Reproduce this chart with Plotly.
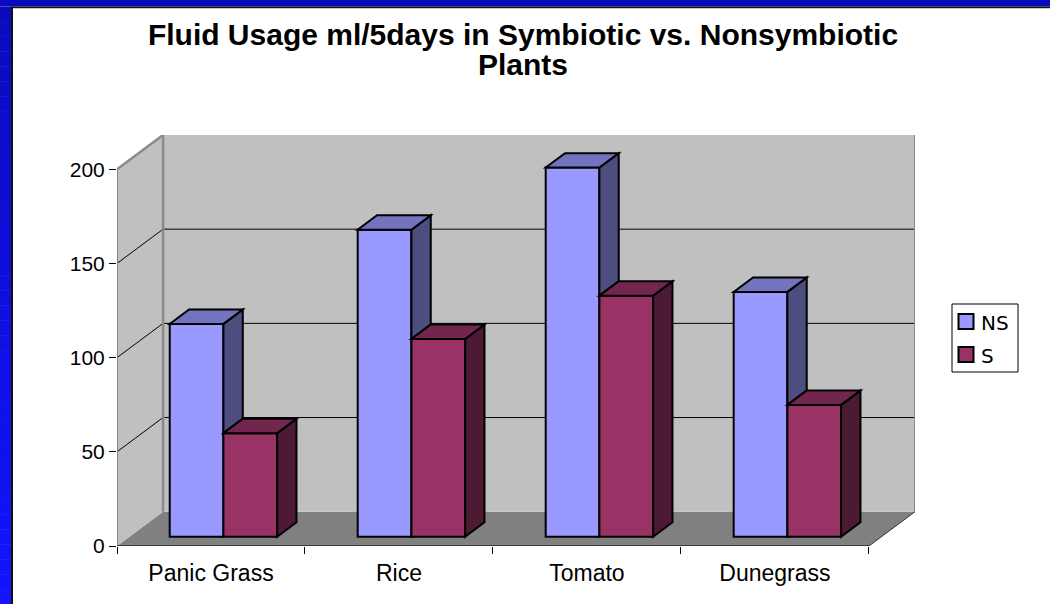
import plotly.graph_objects as go

# ---- data -------------------------------------------------------------
categories = ["Panic Grass", "Rice", "Tomato", "Dunegrass"]
ns_values = [113, 163, 196, 130]
s_values = [55, 105, 128, 70]
series_names = ["NS", "S"]
y_ticks = [0, 50, 100, 150, 200]
title_lines = ["Fluid Usage ml/5days in Symbiotic vs. Nonsymbiotic", "Plants"]

# ---- geometry / style ---------------------------------------------------
W, H = 1050, 604
M_L, M_R, M_T, M_B = 117, 135, 135, 58

DEPTH_X = 0.245     # oblique depth of the box, in category widths
DEPTH_Y = 18.2      # oblique depth of the box, in value units
Y_MAX = 200
BAR_W = 1 / 3.5     # two columns + 150 % gap per category
BAR_Z0 = 0.27       # front plane of the columns (fraction of depth)
BAR_DZ = 0.42       # column depth (fraction of depth)

NS_FRONT, NS_TOP, NS_SIDE = "#9999FF", "#7373BF", "#4D4D80"
S_FRONT, S_TOP, S_SIDE = "#993366", "#73264D", "#4D1A33"
SERIES_COLORS = [NS_FRONT, S_FRONT]
WALL, FLOOR, EDGE = "#C0C0C0", "#808080", "#8A8A8A"
FONT = "Liberation Sans, Arial, sans-serif"
LEGEND_FONT = "DejaVu Sans, Verdana, sans-serif"
TITLE_SIZE = 30          # glyph size of the title
TITLE_LINE_BASE = 23     # base size -> sets the line pitch (1.3 x base)

n = len(categories)
x_max = n + DEPTH_X
y_top = Y_MAX + DEPTH_Y
PW, PH = W - M_L - M_R, H - M_T - M_B


def px(x):
    """pixel column -> paper x"""
    return (x - M_L) / PW


def py(y):
    """pixel row -> paper y"""
    return (H - M_B - y) / PH


def path(points):
    return "M " + " L ".join(f"{x:.4f},{y:.4f}" for x, y in points) + " Z"


def line_path(points):
    return "M " + " L ".join(f"{x:.4f},{y:.4f}" for x, y in points)


shapes = []
annotations = []

# ---- blue slide frame ---------------------------------------------------
shapes.append(dict(type="rect", xref="paper", yref="paper", layer="below",
                   x0=px(0), x1=px(W), y0=py(0), y1=py(6.5),
                   fillcolor="#0B0BBE", line_width=0))
STRIPES = 40
for k in range(STRIPES):
    t = k / (STRIPES - 1)
    r = int(11 + (20 - 11) * t)
    b = int(190 + (255 - 190) * t)
    y0 = 6.5 + (H - 6.5) * k / STRIPES
    y1 = 6.5 + (H - 6.5) * (k + 1) / STRIPES + 0.5
    shapes.append(dict(type="rect", xref="paper", yref="paper", layer="below",
                       x0=px(0), x1=px(11), y0=py(y0), y1=py(min(y1, H)),
                       fillcolor=f"rgb({r},{r},{b})", line_width=0))
shapes.append(dict(type="rect", xref="paper", yref="paper", layer="below",
                   x0=px(11), x1=px(13), y0=py(6.5), y1=py(H),
                   fillcolor="#111111", line_width=0))
shapes.append(dict(type="rect", xref="paper", yref="paper", layer="below",
                   x0=px(11), x1=px(W), y0=py(6.5), y1=py(8),
                   fillcolor="#111111", line_width=0))
shapes.append(dict(type="rect", xref="paper", yref="paper", layer="below",
                   x0=px(13), x1=px(W), y0=py(8), y1=py(9),
                   fillcolor="#C8C8C8", line_width=0))

# ---- 3-D box: floor, walls, gridlines -------------------------------------
dx, dy = DEPTH_X, DEPTH_Y
shapes.append(dict(type="path", xref="x", yref="y", layer="below",
                   path=path([(0, 0), (n, 0), (n + dx, dy), (dx, dy)]),
                   fillcolor=FLOOR, line_width=0))
shapes.append(dict(type="path", xref="x", yref="y", layer="below",
                   path=path([(0, 0), (0, Y_MAX), (dx, Y_MAX + dy), (dx, dy)]),
                   fillcolor=WALL, line_width=0))
shapes.append(dict(type="rect", xref="x", yref="y", layer="below",
                   x0=dx, x1=n + dx, y0=dy, y1=Y_MAX + dy,
                   fillcolor=WALL, line_width=0))
for v in y_ticks[1:-1]:
    shapes.append(dict(type="path", xref="x", yref="y", layer="below",
                       path=line_path([(0, v), (dx, v + dy), (n + dx, v + dy)]),
                       line=dict(color="#000000", width=1)))
# box edges
for pts, col, wd in [
    ([(0, 0), (0, Y_MAX)], EDGE, 2),
    ([(0, Y_MAX), (dx, Y_MAX + dy)], EDGE, 2.5),
    ([(dx, dy), (dx, Y_MAX + dy)], EDGE, 2.5),
    ([(n + dx, dy), (n + dx, Y_MAX + dy)], EDGE, 2),
    ([(0, 0), (n, 0)], "#222222", 1.5),
    ([(n, 0), (n + dx, dy)], "#333333", 1),
]:
    shapes.append(dict(type="path", xref="x", yref="y", layer="below",
                       path=line_path(pts), line=dict(color=col, width=wd)))

# ---- columns ---------------------------------------------------------------
z0x, z0y = BAR_Z0 * DEPTH_X, BAR_Z0 * DEPTH_Y
bdx, bdy = BAR_DZ * DEPTH_X, BAR_DZ * DEPTH_Y
centers = [i + 0.5 + z0x for i in range(n)]

fig = go.Figure()
fig.add_trace(go.Bar(
    name=series_names[0], x=centers, y=ns_values, base=z0y,
    width=BAR_W, offset=-BAR_W, showlegend=False,
    marker=dict(color=NS_FRONT, line=dict(color="#000000", width=2)),
))
fig.add_trace(go.Bar(
    name=series_names[1], x=centers, y=s_values, base=z0y,
    width=BAR_W, offset=0, showlegend=False,
    marker=dict(color=S_FRONT, line=dict(color="#000000", width=2)),
))

edge = dict(color="#000000", width=2)
for c, ns, s in zip(centers, ns_values, s_values):
    ns_top = z0y + ns
    s_top = z0y + s
    low = z0y + min(ns, s)
    # NS column: side (the part not hidden by the S column) and top
    shapes.append(dict(type="path", xref="x", yref="y", layer="above",
                       path=path([(c, low), (c + bdx, low + bdy),
                                  (c + bdx, ns_top + bdy), (c, ns_top)]),
                       fillcolor=NS_SIDE, line=edge))
    shapes.append(dict(type="path", xref="x", yref="y", layer="above",
                       path=path([(c - BAR_W, ns_top), (c, ns_top),
                                  (c + bdx, ns_top + bdy),
                                  (c - BAR_W + bdx, ns_top + bdy)]),
                       fillcolor=NS_TOP, line=edge))
    # S column: side and top
    xr = c + BAR_W
    shapes.append(dict(type="path", xref="x", yref="y", layer="above",
                       path=path([(xr, z0y), (xr + bdx, z0y + bdy),
                                  (xr + bdx, s_top + bdy), (xr, s_top)]),
                       fillcolor=S_SIDE, line=edge))
    shapes.append(dict(type="path", xref="x", yref="y", layer="above",
                       path=path([(c, s_top), (xr, s_top),
                                  (xr + bdx, s_top + bdy), (c + bdx, s_top + bdy)]),
                       fillcolor=S_TOP, line=edge))

# ---- legend box --------------------------------------------------------------
LEG_X0, LEG_X1, LEG_Y0, LEG_Y1 = 952, 1018, 304, 372
shapes.append(dict(type="rect", xref="paper", yref="paper", layer="above",
                   x0=px(LEG_X0), x1=px(LEG_X1), y0=py(LEG_Y1), y1=py(LEG_Y0),
                   fillcolor="#FFFFFF", line=dict(color="#000000", width=1)))
for k, (name, col) in enumerate(zip(series_names, SERIES_COLORS)):
    cy = 321.5 + 33 * k
    shapes.append(dict(type="rect", xref="paper", yref="paper", layer="above",
                       x0=px(958.5), x1=px(973.5), y0=py(cy + 7.5), y1=py(cy - 7.5),
                       fillcolor=col, line=dict(color="#000000", width=2)))
    annotations.append(dict(text=name, xref="paper", yref="paper",
                            x=px(979), y=py(cy + 1), xanchor="left", yanchor="middle",
                            showarrow=False,
                            font=dict(family=LEGEND_FONT, size=20, color="#000000")))

title_html = "<br>".join(
    f'<span style="font-size:{TITLE_SIZE}px">{line}</span>' for line in title_lines)

fig.update_layout(
    width=W, height=H, autosize=False,
    margin=dict(l=M_L, r=M_R, t=M_T, b=M_B, pad=0),
    paper_bgcolor="#FFFFFF", plot_bgcolor="rgba(0,0,0,0)",
    shapes=shapes,
    annotations=annotations,
    showlegend=False,
    hovermode=False,
    title=dict(text=title_html, x=523 / W, xref="container", xanchor="center",
               y=1 - 45 / H, yref="container", yanchor="middle",
               font=dict(family=FONT, size=TITLE_LINE_BASE, color="#000000",
                         weight="bold")),
    xaxis=dict(range=[0, x_max], showgrid=False, zeroline=False, showline=False,
               tickmode="array", tickvals=[i + 0.5 for i in range(n)],
               ticktext=categories, ticks="", ticklabelstandoff=11,
               tickfont=dict(family=FONT, size=23, color="#000000"),
               minor=dict(tickmode="array", tickvals=list(range(n + 1)),
                          ticks="outside", ticklen=7, tickcolor="#000000",
                          tickwidth=1, showgrid=False),
               fixedrange=True),
    yaxis=dict(range=[0, y_top], showgrid=False, zeroline=False, showline=False,
               tickmode="array", tickvals=y_ticks, ticks="outside", ticklen=7,
               tickcolor="#000000", tickwidth=1, ticklabelstandoff=0,
               tickfont=dict(family=FONT, size=21, color="#000000"),
               fixedrange=True),
)

fig.write_html("out.html")
